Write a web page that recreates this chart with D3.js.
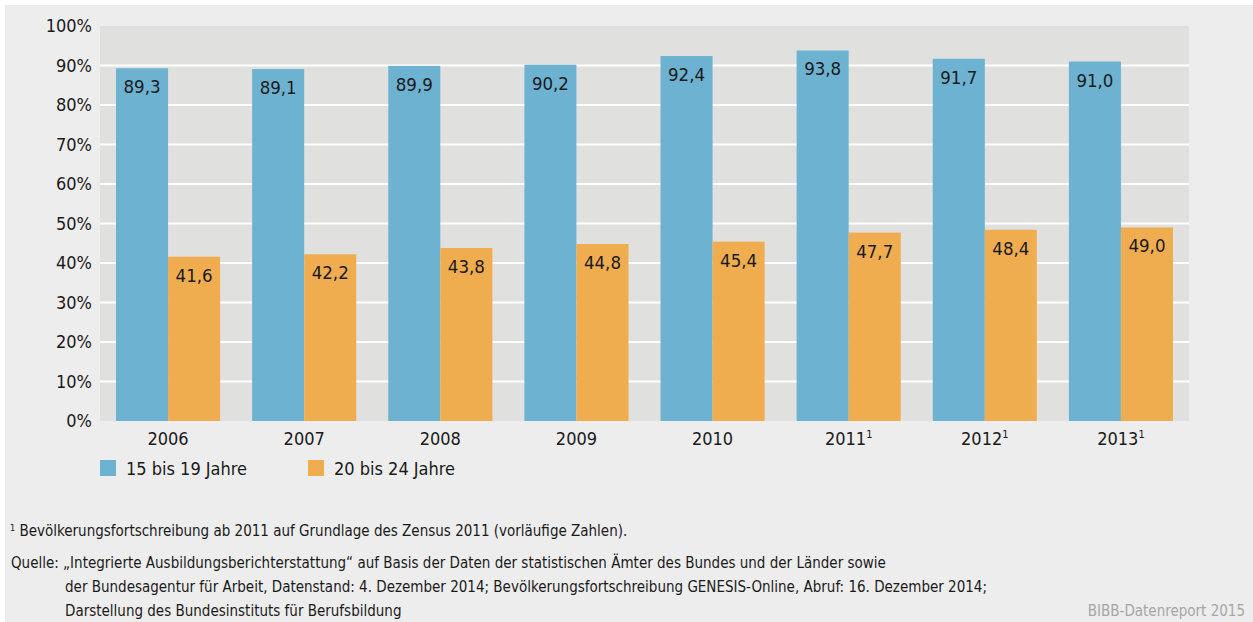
<!DOCTYPE html>
<html><head><meta charset="utf-8">
<script src="https://cdn.jsdelivr.net/npm/d3@7"></script>
<style>
html,body{margin:0;padding:0;background:#fff;}
text{font-family:"DejaVu Sans Condensed","DejaVu Sans",sans-serif;fill:#1a1a1a;}
</style></head><body>
<svg id="c" width="1253" height="622"></svg>
<script>
const years = ["2006","2007","2008","2009","2010","2011","2012","2013"];
const footnoted = [false,false,false,false,false,true,true,true];
const series = ["15 bis 19 Jahre","20 bis 24 Jahre"];
const young = [89.3,89.1,89.9,90.2,92.4,93.8,91.7,91.0];
const older = [41.6,42.2,43.8,44.8,45.4,47.7,48.4,49.0];
const yTicks = [0,10,20,30,40,50,60,70,80,90,100];
const colors = ["#6db3d1","#efad4f"];

const svg = d3.select("#c");
svg.append("rect").attr("x",5).attr("y",5).attr("width",1248).attr("height",617).attr("fill","#ededed");

const m = {l:100,r:1189,t:26,b:421};
const x0 = d3.scaleBand().domain(years).range([m.l,m.r]).paddingInner(0).paddingOuter(0);
const x1 = d3.scaleBand().domain([0,1]).range([16, x0.bandwidth()-16]);
const y = d3.scaleLinear().domain([0,100]).range([m.b,m.t]);

svg.append("rect").attr("x",m.l).attr("y",m.t).attr("width",m.r-m.l).attr("height",m.b-m.t).attr("fill","#e0e0df");

// gridlines
svg.append("g").selectAll("line").data(yTicks.filter(d=>d>0 && d<100)).join("line")
  .attr("x1",m.l).attr("x2",m.r).attr("y1",d=>y(d)).attr("y2",d=>y(d))
  .attr("stroke","#fff").attr("stroke-width",2);

// y axis labels
const yAxis = d3.axisLeft(y).tickValues(yTicks).tickSize(0).tickPadding(8).tickFormat(d=>d+"%");
const ya = svg.append("g").attr("transform",`translate(${m.l},0)`).call(yAxis);
ya.select(".domain").remove();
ya.selectAll("text").style("font-size","18px").attr("fill","#1a1a1a");

// bars
const data = years.map((yr,i)=>({yr,i,vals:[young[i],older[i]]}));
const g = svg.append("g").selectAll("g").data(data).join("g")
  .attr("transform",d=>`translate(${x0(d.yr)},0)`);
g.selectAll("rect").data(d=>d.vals.map((v,k)=>({v,k}))).join("rect")
  .attr("x",d=>x1(d.k)).attr("width",x1.bandwidth())
  .attr("y",d=>y(d.v)).attr("height",d=>y(0)-y(d.v))
  .attr("fill",d=>colors[d.k]);
g.selectAll("text.v").data(d=>d.vals.map((v,k)=>({v,k}))).join("text").attr("class","v")
  .attr("x",d=>x1(d.k)+x1.bandwidth()/2).attr("y",d=>y(d.v)+25)
  .attr("text-anchor","middle").style("font-size","18.5px")
  .text(d=>d3.format(".1f")(d.v).replace(".",","));

// x labels
const xl = svg.append("g").selectAll("text").data(data).join("text")
  .attr("x",d=>x0(d.yr)+x0.bandwidth()/2).attr("y",445)
  .attr("text-anchor","middle").style("font-size","18px");
xl.append("tspan").text(d=>d.yr);
xl.filter(d=>footnoted[d.i]).append("tspan").attr("dy",-7).style("font-size","11px").text("1");

// legend
const lg = svg.append("g").selectAll("g").data(series).join("g")
  .attr("transform",(d,i)=>`translate(${100+i*208},460)`);
lg.append("rect").attr("width",16).attr("height",16).attr("fill",(d,i)=>colors[i]);
lg.append("text").attr("x",26).attr("y",15).style("font-size","18px").text(d=>d);

// footnotes
const fs = "15px";
const fn = svg.append("text").attr("x",10).attr("y",536).style("font-size",fs);
fn.append("tspan").attr("dy",-5).style("font-size","9px").text("1");
fn.append("tspan").attr("dy",5).text(" Bevölkerungsfortschreibung ab 2011 auf Grundlage des Zensus 2011 (vorläufige Zahlen).");
svg.append("text").attr("x",11).attr("y",568).style("font-size",fs)
  .text("Quelle: „Integrierte Ausbildungsberichterstattung“ auf Basis der Daten der statistischen Ämter des Bundes und der Länder sowie");
svg.append("text").attr("x",65).attr("y",592).style("font-size",fs)
  .text("der Bundesagentur für Arbeit, Datenstand: 4. Dezember 2014; Bevölkerungsfortschreibung GENESIS-Online, Abruf: 16. Dezember 2014;");
svg.append("text").attr("x",65).attr("y",616).style("font-size",fs)
  .text("Darstellung des Bundesinstituts für Berufsbildung");
svg.append("text").attr("x",1245).attr("y",616).attr("text-anchor","end").style("font-size",fs).style("fill","#a6a6a6")
  .text("BIBB-Datenreport 2015");
</script></body></html>
